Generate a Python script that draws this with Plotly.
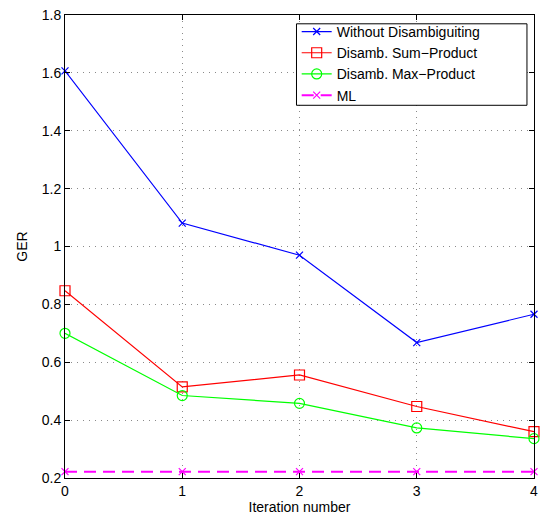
import plotly.graph_objects as go

iterations = [0, 1, 2, 3, 4]
without_disamb = [1.607, 1.081, 0.970, 0.668, 0.766]
sum_product = [0.847, 0.515, 0.556, 0.447, 0.360]
max_product = [0.700, 0.485, 0.458, 0.373, 0.336]
ml = [0.222, 0.222, 0.222, 0.222, 0.222]

series = [
    ("Without Disambiguiting", without_disamb, "#0000ff", "x-thin-open", "solid", 7),
    ("Disamb. Sum\u2212Product", sum_product, "#ff0000", "square-open", "solid", 10),
    ("Disamb. Max\u2212Product", max_product, "#00ff00", "circle-open", "solid", 10),
    ("ML", ml, "#ff00ff", "x-thin-open", "12px,7px", 7),
]

fig = go.Figure()
for i, (name, vals, color, sym, dash, size) in enumerate(series):
    fig.add_trace(go.Scatter(
        x=iterations, y=vals, name=name, mode="lines+markers",
        legendgroup=f"g{i}",
        line=dict(color=color, width=1.2 if dash == "solid" else 2, dash=dash),
        marker=dict(symbol=sym, size=size, color=color, line=dict(color=color, width=1.2)),
        cliponaxis=False,
    ))

# legend frame (drawn as a shape so it can be wider than the legend text)
fig.add_shape(type="rect", xref="paper", yref="paper",
              x0=0.4936, x1=0.985, y0=0.805, y1=0.981,
              line=dict(color="#000000", width=1), fillcolor="white", layer="above")

font = dict(family="Liberation Sans, Arial, sans-serif", size=14, color="#000000")
axis_common = dict(
    showline=True, linecolor="#000000", linewidth=1, mirror="allticks",
    ticks="inside", ticklen=5, tickcolor="#000000",
    showgrid=True, gridcolor="#8a8a8a", griddash="1px,5px", gridwidth=1,
    zeroline=False, tickfont=font, ticklabeloverflow="allow",
)
fig.update_layout(
    width=545, height=518,
    margin=dict(l=65, r=8, t=7, b=39),
    paper_bgcolor="white", plot_bgcolor="white",
    font=font,
    xaxis=dict(range=[0, 4], tickvals=[0, 1, 2, 3, 4], title=dict(text="Iteration number", font=font, standoff=2), **axis_common),
    yaxis=dict(range=[0.2, 1.8], tickvals=[0.2, 0.4, 0.6, 0.8, 1.0, 1.2, 1.4, 1.6, 1.8],
               ticktext=["0.2", "0.4", "0.6", "0.8", "1", "1.2", "1.4", "1.6", "1.8"],
               title=dict(text="GER", font=font, standoff=10), **axis_common),
    legend=dict(x=0.494, y=0.998, xanchor="left", yanchor="top",
                borderwidth=0, bgcolor="rgba(0,0,0,0)",
                font=font, tracegroupgap=0),
    showlegend=True,
)
fig.write_html("out.html")
